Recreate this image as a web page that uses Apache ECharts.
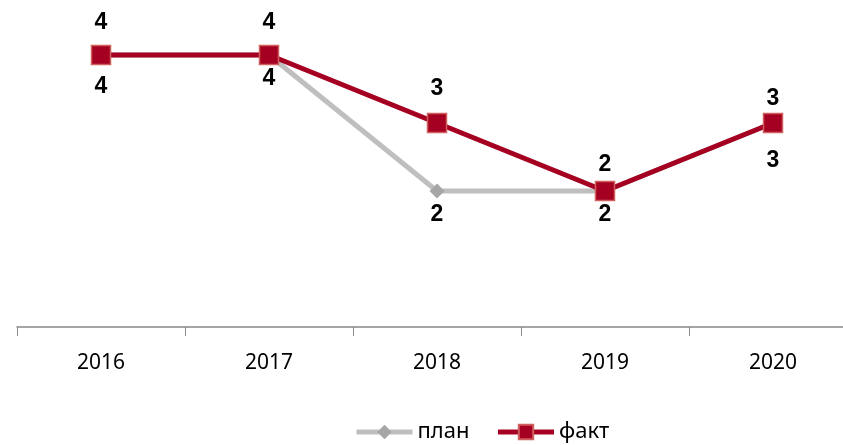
<!DOCTYPE html>
<html lang="ru">
<head>
    <meta charset="UTF-8">
    <title>план / факт</title>
    <script type="text/javascript" src="https://cdn.jsdelivr.net/npm/echarts@6/dist/echarts.min.js"></script>
    <style>
        html, body { margin: 0; padding: 0; background: #fff; }
        #chart { width: 843px; height: 445px; }
    </style>
</head>
<body>
<div id="chart"></div>
<script type="text/javascript">
    var years = ['2016', '2017', '2018', '2019', '2020'];
    var plan = [4, 4, 2, 2, 3];
    var fact = [4, 4, 3, 2, 3];

    // label gaps per point (labels in the source sit at slightly different heights)
    var planGap = [13, 5, 5, 5, 19];
    var factGap = [11, 11, 13, 5, 3];

    function withGap(values, gaps) {
        return values.map(function (v, i) {
            return { value: v, label: { distance: gaps[i] } };
        });
    }

    var labelFont = {
        show: true,
        fontFamily: 'Liberation Sans',
        fontWeight: 'bold',
        fontSize: 23,
        color: '#000'
    };

    var option = {
        animation: false,
        grid: { left: 17, width: 840, top: 21, bottom: 118, outerBoundsMode: 'none', containLabel: false },
        legend: {
            top: 416,
            left: 349,
            itemWidth: 56,
            itemHeight: 18,
            itemGap: 26,
            lineStyle: { width: 5 },
            textStyle: { fontFamily: 'Noto Sans', fontSize: 22, color: '#000' },
            data: ['план', 'факт']
        },
        xAxis: {
            type: 'category',
            data: years,
            axisLine: { lineStyle: { color: '#888', width: 1.5 } },
            axisTick: { show: true, length: 9, lineStyle: { color: '#888' } },
            axisLabel: { margin: 26, fontFamily: 'Noto Sans', fontSize: 21, color: '#000' }
        },
        yAxis: {
            type: 'value',
            min: 0,
            max: 4.5,
            show: false,
            splitLine: { show: false }
        },
        series: [
            {
                name: 'план',
                type: 'line',
                data: withGap(plan, planGap),
                symbol: 'diamond',
                symbolSize: 15,
                lineStyle: { color: '#BFBFBF', width: 5 },
                itemStyle: { color: '#A6A6A6' },
                label: Object.assign({ position: 'bottom' }, labelFont),
                z: 2
            },
            {
                name: 'факт',
                type: 'line',
                data: withGap(fact, factGap),
                symbol: 'rect',
                symbolSize: 19,
                lineStyle: { color: '#A50021', width: 5 },
                itemStyle: { color: '#A50021', borderColor: '#D0605E', borderWidth: 1.5 },
                label: Object.assign({ position: 'top' }, labelFont),
                z: 3
            }
        ]
    };

    var myChart = echarts.init(document.getElementById('chart'));
    myChart.setOption(option);
</script>
</body>
</html>
